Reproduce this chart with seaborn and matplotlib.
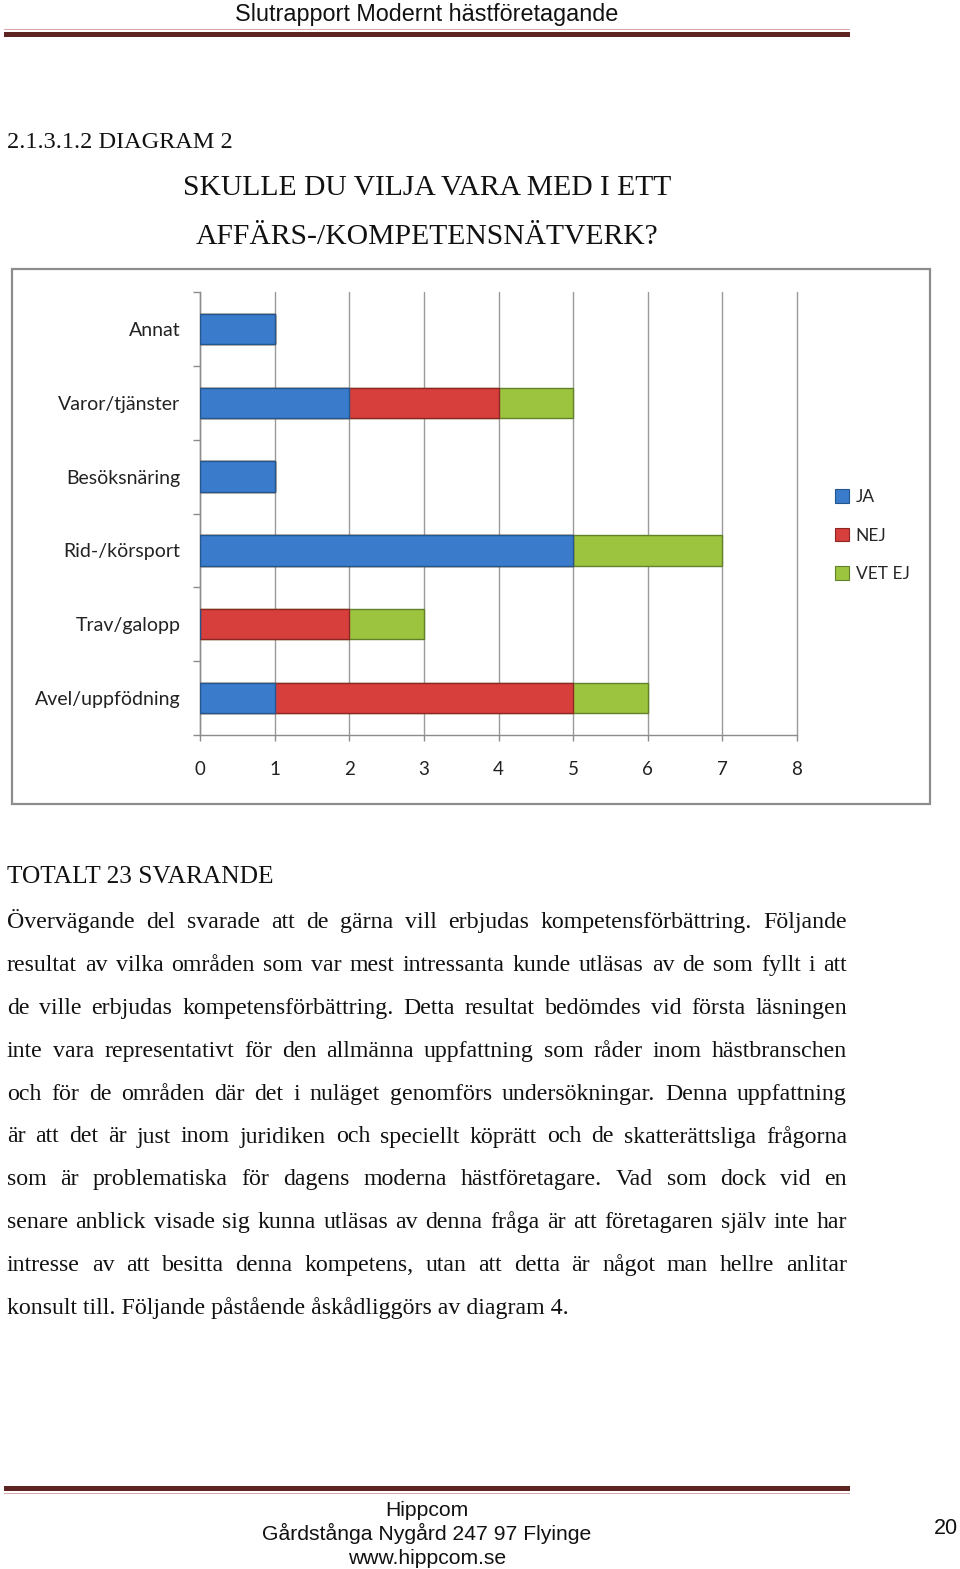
import matplotlib
matplotlib.use("Agg")
import matplotlib.pyplot as plt
import seaborn as sns
import numpy as np
import pandas as pd
from matplotlib.patches import Rectangle, Patch

# ---------------- data ----------------
categories = ["Annat", "Varor/tjänster", "Besöksnäring", "Rid-/körsport", "Trav/galopp", "Avel/uppfödning"]
ja = [1, 2, 1, 5, 0, 1]
nej = [0, 2, 0, 0, 2, 4]
vet_ej = [0, 1, 0, 2, 1, 1]
series_names = ["JA", "NEJ", "VET EJ"]
series_colors = ["#3B7BCB", "#D63F3C", "#9CC43F"]
edge_colors = ["#24568F", "#8E2624", "#63802A"]
x_ticks = [0, 1, 2, 3, 4, 5, 6, 7, 8]

header = "Slutrapport Modernt hästföretagande"
section = "2.1.3.1.2 DIAGRAM 2"
title_lines = ["SKULLE DU VILJA VARA MED I ETT", "AFFÄRS-/KOMPETENSNÄTVERK?"]
total_line = "TOTALT 23 SVARANDE"
body_lines = [
    "Övervägande del svarade att de gärna vill erbjudas kompetensförbättring. Följande",
    "resultat av vilka områden som var mest intressanta kunde utläsas av de som fyllt i att",
    "de ville erbjudas kompetensförbättring. Detta resultat bedömdes vid första läsningen",
    "inte vara representativt för den allmänna uppfattning som råder inom hästbranschen",
    "och för de områden där det i nuläget genomförs undersökningar. Denna uppfattning",
    "är att det är just inom juridiken och speciellt köprätt och de skatterättsliga frågorna",
    "som är problematiska för dagens moderna hästföretagare. Vad som dock vid en",
    "senare anblick visade sig kunna utläsas av denna fråga är att företagaren själv inte har",
    "intresse av att besitta denna kompetens, utan att detta är något man hellre anlitar",
    "konsult till. Följande påstående åskådliggörs av diagram 4.",
]
footer_lines = ["Hippcom", "Gårdstånga Nygård 247 97 Flyinge", "www.hippcom.se"]
page_number = "20"

# ---------------- figure ----------------
sns.set_theme(style="white")
W, H = 960, 1569
DPI = 100
fig = plt.figure(figsize=(W / DPI, H / DPI), dpi=DPI)
fig.patch.set_facecolor("white")

def fx(x):
    return x / W

def fy(y):
    return 1 - y / H

SERIF = ["Liberation Serif", "DejaVu Serif"]
SANS = ["Liberation Sans", "DejaVu Sans"]
CAL = ["Lato", "DejaVu Sans"]

# header
fig.text(fx(427), fy(21), header, family=SANS, fontsize=16.8, ha="center", va="baseline", color="#111111")
fig.add_artist(Rectangle((fx(4), fy(30)), fx(846), 1.5 / H, transform=fig.transFigure,
                         facecolor="#D9A8A4", edgecolor="none"))
fig.add_artist(Rectangle((fx(4), fy(37)), fx(846), 5.5 / H, transform=fig.transFigure,
                         facecolor="#5E2422", edgecolor="none"))

# section and title
fig.text(fx(7), fy(148), section, family=SERIF, fontsize=17.5, ha="left", va="baseline", color="#111111")
fig.text(fx(427), fy(195), title_lines[0], family=SERIF, fontsize=21.3, ha="center", va="baseline", color="#111111")
fig.text(fx(427), fy(244), title_lines[1], family=SERIF, fontsize=21.3, ha="center", va="baseline", color="#111111")

# chart frame
fig.add_artist(Rectangle((fx(12), fy(804)), fx(918), (804 - 269) / H, transform=fig.transFigure,
                         facecolor="none", edgecolor="#8C8C8C", lw=1.6))

# ---------------- chart ----------------
ax = fig.add_axes([fx(200), fy(735), fx(597), (735 - 292) / H])
df = pd.DataFrame({"cat": categories, "JA": ja, "NEJ": nej, "VET EJ": vet_ej})
df["c1"] = df["JA"]
df["c2"] = df["JA"] + df["NEJ"]
df["c3"] = df["JA"] + df["NEJ"] + df["VET EJ"]

bar_w = 0.41
for col, fc, ec in [("c3", series_colors[2], edge_colors[2]),
                    ("c2", series_colors[1], edge_colors[1]),
                    ("c1", series_colors[0], edge_colors[0])]:
    sns.barplot(data=df, x=col, y="cat", order=categories, orient="h", color=fc,
                width=bar_w, edgecolor=ec, linewidth=1.0, saturation=1, ax=ax, zorder=3)

ax.set_xlim(0, 8)
ax.set_ylim(5.5, -0.5)
ax.set_xticks(x_ticks)
ax.set_xticklabels([str(t) for t in x_ticks], family=CAL, fontsize=13.5, color="#222222")
ax.set_yticks(range(len(categories)))
ax.set_yticklabels(categories, family=CAL, fontsize=14, color="#222222")
ax.set_xlabel("")
ax.set_ylabel("")
ax.xaxis.grid(True, color="#9A9A9A", lw=1.0, zorder=0, clip_on=False)
for gl in ax.get_xgridlines():
    gl.set_clip_on(False)
ax.yaxis.grid(False)
ax.set_axisbelow(True)
for s in ["top", "right"]:
    ax.spines[s].set_visible(False)
for s in ["left", "bottom"]:
    ax.spines[s].set_color("#8C8C8C")
    ax.spines[s].set_linewidth(1.0)
ax.tick_params(axis="y", which="major", length=0, pad=14)
ax.tick_params(axis="x", which="major", length=4, width=1.0, color="#8C8C8C", pad=15, direction="out")
ax.set_yticks(np.arange(-0.5, len(categories), 1.0), minor=True)
ax.tick_params(axis="y", which="minor", length=5, width=1.0, color="#8C8C8C", left=True)
ax.tick_params(axis="x", bottom=True)
ax.set_facecolor("none")

# legend
handles = [Patch(facecolor=c, edgecolor=e, lw=0.8) for c, e in zip(series_colors, edge_colors)]
fig.legend(handles, series_names, loc="upper left", bbox_to_anchor=(fx(835), fy(489)),
           frameon=False, prop={"family": CAL, "size": 12.5}, handlelength=0.8, handleheight=0.8,
           handletextpad=0.4, labelspacing=1.3, borderaxespad=0, borderpad=0)

# ---------------- body text ----------------
fig.text(fx(7), fy(883), total_line, family=SERIF, fontsize=18.3, ha="left", va="baseline", color="#111111")

renderer = fig.canvas.get_renderer()
body_size = 17.2
left_px, right_px = 7, 847
baseline0, spacing = 928, 42.9
for i, line in enumerate(body_lines):
    yb = baseline0 + i * spacing
    words = line.split(" ")
    if i == len(body_lines) - 1:
        fig.text(fx(left_px), fy(yb), line, family=SERIF, fontsize=body_size, ha="left",
                 va="baseline", color="#111111")
        continue
    arts = []
    widths = []
    for w_ in words:
        t = fig.text(0, fy(yb), w_, family=SERIF, fontsize=body_size, ha="left", va="baseline", color="#111111")
        arts.append(t)
        widths.append(t.get_window_extent(renderer).width)
    gap = (right_px - left_px - sum(widths)) / max(len(words) - 1, 1)
    gap = max(gap, 2)
    x = left_px
    for t, wd in zip(arts, widths):
        t.set_x(fx(x))
        x += wd + gap

# footer
fig.add_artist(Rectangle((fx(4), fy(1491)), fx(846), 5 / H, transform=fig.transFigure,
                         facecolor="#5E2422", edgecolor="none"))
fig.add_artist(Rectangle((fx(4), fy(1494)), fx(846), 1.5 / H, transform=fig.transFigure,
                         facecolor="#D9A8A4", edgecolor="none"))
for j, fl in enumerate(footer_lines):
    fig.text(fx(427), fy(1516 + j * 24), fl, family=SANS, fontsize=15.2, ha="center", va="baseline", color="#111111")
fig.text(fx(946), fy(1534), page_number, family=SANS, fontsize=15.5, ha="center", va="baseline", color="#111111")

fig.savefig("out.png", dpi=DPI, facecolor="white")
